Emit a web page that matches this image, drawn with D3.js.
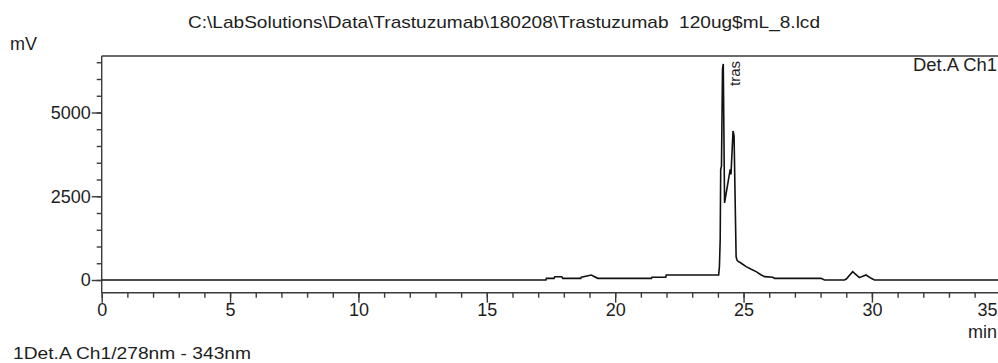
<!DOCTYPE html>
<html><head><meta charset="utf-8">
<script src="https://cdn.jsdelivr.net/npm/d3@7"></script>
<style>
body{margin:0;background:#fff;}
svg{display:block;}
text{font-family:Arial,"Liberation Sans",sans-serif;fill:#1e1e1e;}
</style>
</head><body>
<svg id="c" width="998" height="363"></svg>
<script>
// ---- data (retention time in min, signal in mV) ----
const times  = [0, 17.30, 17.32, 17.62, 17.65, 17.92, 17.96, 18.66, 18.68, 19.07, 19.32, 21.41, 21.43, 21.97, 21.99, 24.03,
                24.06, 24.09, 24.11, 24.14, 24.18, 24.21, 24.26, 24.37, 24.48, 24.51, 24.59, 24.63, 24.71, 24.74, 24.78,
                24.91, 25.10, 25.30, 25.49, 25.69, 25.82, 26.14, 26.21, 28.02, 28.15, 28.93, 29.00, 29.25, 29.51, 29.77,
                29.97, 30.10, 36];
const values = [0, 0, 50, 50, 98, 98, 50, 50, 80, 149, 50, 50, 80, 80, 149, 149,
                400, 1200, 3300, 3400, 6300, 6450, 2300, 2800, 3300, 3150, 4450, 4300, 700, 600, 560,
                500, 400, 320, 250, 150, 100, 80, 50, 50, 0, 0, 30, 247, 70, 150,
                50, 0, 0];
const xMajorTicks = [0, 5, 10, 15, 20, 25, 30, 35];
const xMinorTicks = d3.range(0, 36, 1);
const yMajorTicks = [0, 2500, 5000];
const yMinorTicks = [0, 500, 1000, 1500, 2000, 2500, 3000, 3500, 4000, 4500, 5000, 5500, 6000, 6500];
const titleText = "C:\\LabSolutions\\Data\\Trastuzumab\\180208\\Trastuzumab  120ug$mL_8.lcd";
const yUnit = "mV", xUnit = "min";
const detLabel = "Det.A Ch1";
const peakName = "tras", peakTime = 24.21;
const footer = "1Det.A Ch1/278nm - 343nm";

// ---- layout ----
const svg = d3.select("#c");
const x = d3.scaleLinear().domain([0, 35]).range([101.7, 1000.3]);
const y = d3.scaleLinear().domain([0, 5000]).range([280, 112.5]);
const plotTop = 56, plotBottom = 292.7, plotLeft = 101.7, plotRight = 1010;
const fs = 18;

// frame lines
const axisColor = "#3a3a3a";
svg.append("line").attr("x1", plotLeft).attr("x2", plotRight).attr("y1", plotTop).attr("y2", plotTop)
  .attr("stroke", axisColor).attr("stroke-width", 1.4);
svg.append("line").attr("x1", plotLeft).attr("x2", plotRight).attr("y1", plotBottom).attr("y2", plotBottom)
  .attr("stroke", axisColor).attr("stroke-width", 1.4);
svg.append("line").attr("x1", plotLeft).attr("x2", plotLeft).attr("y1", plotTop).attr("y2", plotBottom)
  .attr("stroke", axisColor).attr("stroke-width", 1.4);

// x axis ticks
const gxMinor = svg.append("g").attr("transform", `translate(0,${plotBottom})`)
  .call(d3.axisBottom(x).tickValues(xMinorTicks).tickSize(5).tickFormat(""));
const gx = svg.append("g").attr("transform", `translate(0,${plotBottom})`)
  .call(d3.axisBottom(x).tickValues(xMajorTicks).tickSize(10).tickPadding(1).tickFormat(d3.format("d")));
[gxMinor, gx].forEach(g => { g.select(".domain").remove(); g.selectAll("line").attr("stroke", axisColor).attr("stroke-width", 1.4); });
gx.selectAll("text").attr("fill", "#1e1e1e")
  .filter(d => d === 35).attr("text-anchor", "end").attr("x", 997 - x(35));

// y axis ticks
const gyMinor = svg.append("g").attr("transform", `translate(${plotLeft},0)`)
  .call(d3.axisLeft(y).tickValues(yMinorTicks).tickSize(5).tickFormat(""));
const gy = svg.append("g").attr("transform", `translate(${plotLeft},0)`)
  .call(d3.axisLeft(y).tickValues(yMajorTicks).tickSize(10).tickPadding(1).tickFormat(d3.format("d")));
[gyMinor, gy].forEach(g => { g.select(".domain").remove(); g.selectAll("line").attr("stroke", axisColor).attr("stroke-width", 1.4); });
gy.selectAll("text").attr("fill", "#1e1e1e");
svg.selectAll("g").attr("font-family", null).attr("font-size", fs);

// trace
svg.append("clipPath").attr("id", "pc").append("rect")
  .attr("x", plotLeft).attr("y", plotTop).attr("width", plotRight - plotLeft).attr("height", plotBottom - plotTop);
const line = d3.line().x((d, i) => x(times[i])).y((d, i) => y(values[i]));
svg.append("path").datum(values).attr("d", line).attr("clip-path", "url(#pc)")
  .attr("fill", "none").attr("stroke", "#111").attr("stroke-width", 1.6).attr("stroke-linejoin", "miter");

// texts
svg.append("text").attr("x", 188).attr("y", 28).attr("font-size", 17)
  .attr("textLength", 632).attr("lengthAdjust", "spacingAndGlyphs")
  .style("white-space", "pre").text(titleText);
svg.append("text").attr("x", 10).attr("y", 50).attr("font-size", fs).text(yUnit);
svg.append("text").attr("x", 997).attr("y", 338).attr("text-anchor", "end").attr("font-size", fs).text(xUnit);
svg.append("text").attr("x", 913).attr("y", 71).attr("font-size", fs)
  .attr("textLength", 84).attr("lengthAdjust", "spacingAndGlyphs").text(detLabel);
svg.append("text").attr("transform", `translate(${x(peakTime) + 17},86) rotate(-90)`)
  .attr("font-size", 15).text(peakName);
svg.append("text").attr("x", 13).attr("y", 359).attr("font-size", 17)
  .attr("textLength", 238).attr("lengthAdjust", "spacingAndGlyphs").text(footer);
</script>
</body></html>
